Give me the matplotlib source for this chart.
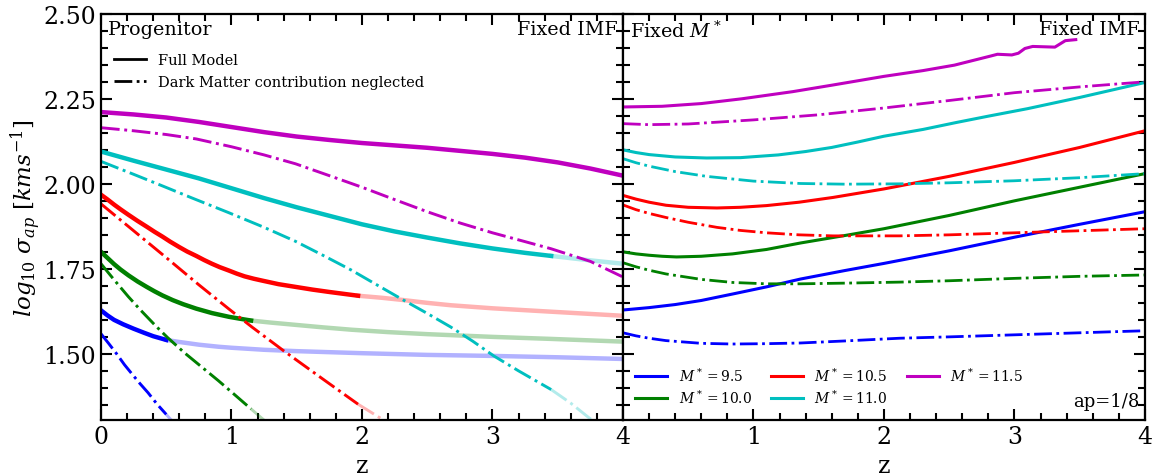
import matplotlib
matplotlib.use('Agg')
import matplotlib.pyplot as plt
from matplotlib.lines import Line2D
import numpy as np

plt.rcParams['font.family'] = 'DejaVu Serif'
plt.rcParams['mathtext.fontset'] = 'dejavuserif'

colors = ['b', 'g', 'r', 'c', 'm']
mass_labels = ['9.5', '10.0', '10.5', '11.0', '11.5']
# z where the progenitor curves fade out
z_fade = [0.5, 1.15, 1.97, 3.45, 9.0]

# --- left panel: progenitor, full model
prog_full_z = [
    [0, 0.05, 0.1, 0.17, 0.25, 0.33, 0.4, 0.5, 0.6, 0.75, 0.9, 1.0, 1.25, 1.5, 2.0, 2.5, 3.0, 3.5, 4.0],
    [0, 0.05, 0.1, 0.15, 0.21, 0.28, 0.35, 0.41, 0.47, 0.55, 0.63, 0.73, 0.85, 0.98, 1.07, 1.15,
     1.3, 1.5, 1.7, 1.92, 2.2, 2.5, 3.0, 3.45, 4.0],
    [0, 0.05, 0.1, 0.15, 0.21, 0.28, 0.35, 0.41, 0.47, 0.53, 0.6, 0.66, 0.73, 0.79, 0.85, 0.91, 0.98,
     1.04, 1.1, 1.17, 1.24, 1.36, 1.49, 1.62, 1.75, 1.87, 1.97, 2.15, 2.3, 2.5, 2.68, 3.0, 3.45, 4.0],
    [0, 0.25, 0.5, 0.75, 1.0, 1.25, 1.5, 1.75, 2.0, 2.25, 2.5, 2.75, 3.0, 3.25, 3.45, 3.7, 4.0],
    [0, 0.25, 0.5, 0.75, 1.0, 1.25, 1.5, 1.75, 2.0, 2.25, 2.5, 2.75, 3.0, 3.25, 3.5, 3.75, 4.0],
]
prog_full_v = [
    [1.628, 1.613, 1.600, 1.587, 1.574, 1.562, 1.552, 1.541, 1.535, 1.527, 1.521, 1.518, 1.512,
     1.508, 1.502, 1.497, 1.494, 1.490, 1.485],
    [1.800, 1.782, 1.764, 1.748, 1.731, 1.713, 1.697, 1.684, 1.672, 1.658, 1.646, 1.633, 1.620,
     1.609, 1.603, 1.598, 1.592, 1.585, 1.578, 1.571, 1.564, 1.558, 1.550, 1.544, 1.536],
    [1.968, 1.954, 1.939, 1.925, 1.909, 1.891, 1.874, 1.859, 1.845, 1.830, 1.814, 1.801, 1.788,
     1.776, 1.765, 1.755, 1.745, 1.736, 1.728, 1.721, 1.715, 1.705, 1.697, 1.689, 1.682, 1.676,
     1.671, 1.665, 1.659, 1.650, 1.643, 1.634, 1.624, 1.612],
    [2.095, 2.068, 2.042, 2.016, 1.987, 1.958, 1.931, 1.906, 1.881, 1.860, 1.842, 1.825, 1.810,
     1.797, 1.788, 1.777, 1.765],
    [2.211, 2.204, 2.195, 2.182, 2.167, 2.152, 2.139, 2.129, 2.120, 2.113, 2.106, 2.097, 2.088,
     2.077, 2.063, 2.045, 2.024],
]

# --- left panel: progenitor, dark matter neglected
prog_nodm_z = [
    [0, 0.06, 0.12, 0.18, 0.25, 0.3, 0.36, 0.43, 0.5, 0.57, 0.65],
    [0, 0.1, 0.21, 0.3, 0.42, 0.51, 0.64, 0.77, 0.9, 1.0, 1.15, 1.25, 1.35],
    [0, 0.25, 0.5, 0.75, 0.98, 1.16, 1.4, 1.7, 1.97, 2.15, 2.3],
    [0, 0.25, 0.47, 0.7, 0.98, 1.25, 1.49, 1.7, 1.92, 2.1, 2.3, 2.5, 2.68, 2.85, 3.01, 3.2, 3.45,
     3.6, 3.73, 3.85],
    [0, 0.25, 0.5, 0.73, 1.0, 1.25, 1.49, 1.75, 2.0, 2.22, 2.5, 2.75, 3.0, 3.25, 3.45, 3.75, 4.0],
]
prog_nodm_v = [
    [1.559, 1.530, 1.500, 1.468, 1.435, 1.412, 1.386, 1.352, 1.322, 1.292, 1.26],
    [1.765, 1.718, 1.668, 1.630, 1.582, 1.548, 1.503, 1.462, 1.421, 1.388, 1.338, 1.305, 1.27],
    [1.941, 1.862, 1.783, 1.703, 1.632, 1.578, 1.509, 1.426, 1.352, 1.309, 1.27],
    [2.066, 2.028, 1.994, 1.958, 1.915, 1.872, 1.831, 1.790, 1.746, 1.706, 1.662, 1.619, 1.579,
     1.537, 1.494, 1.450, 1.395, 1.355, 1.315, 1.28],
    [2.165, 2.156, 2.145, 2.132, 2.109, 2.085, 2.059, 2.024, 1.990, 1.958, 1.918, 1.885, 1.856,
     1.830, 1.809, 1.772, 1.726],
]

# --- right panel: fixed M*, full model
fixm_full_z = [
    [0, 0.2, 0.4, 0.6, 0.84, 1.1, 1.36, 1.7, 2.0, 2.5, 3.0, 3.5, 4.0],
    [0, 0.1, 0.2, 0.3, 0.41, 0.6, 0.84, 1.1, 1.36, 1.7, 2.0, 2.5, 3.0, 3.5, 4.0],
    [0, 0.1, 0.2, 0.33, 0.5, 0.72, 0.9, 1.1, 1.35, 1.61, 2.0, 2.5, 3.0, 3.5, 4.0],
    [0, 0.1, 0.2, 0.4, 0.64, 0.9, 1.19, 1.4, 1.6, 1.8, 2.0, 2.3, 2.55, 2.8, 3.1, 3.5, 4.0],
    [0, 0.3, 0.6, 0.91, 1.3, 1.6, 2.0, 2.3, 2.54, 2.82, 2.87, 2.98, 3.03, 3.08, 3.14, 3.31, 3.39, 3.47],
]
fixm_full_v = [
    [1.629, 1.636, 1.645, 1.657, 1.676, 1.697, 1.720, 1.745, 1.766, 1.803, 1.843, 1.881, 1.918],
    [1.800, 1.794, 1.790, 1.787, 1.785, 1.787, 1.794, 1.807, 1.826, 1.848, 1.868, 1.907, 1.950,
     1.990, 2.030],
    [1.966, 1.955, 1.946, 1.937, 1.931, 1.929, 1.931, 1.936, 1.946, 1.960, 1.985, 2.022, 2.063,
     2.107, 2.156],
    [2.100, 2.092, 2.086, 2.079, 2.076, 2.077, 2.085, 2.095, 2.107, 2.123, 2.140, 2.160, 2.180,
     2.199, 2.221, 2.254, 2.298],
    [2.226, 2.228, 2.236, 2.250, 2.271, 2.290, 2.316, 2.333, 2.349, 2.376, 2.381, 2.379, 2.384,
     2.398, 2.404, 2.402, 2.421, 2.424],
]

# --- right panel: fixed M*, dark matter neglected
fixm_nodm_z = [
    [0, 0.1, 0.2, 0.33, 0.6, 0.84, 1.1, 1.36, 1.7, 2.12, 2.5, 3.0, 3.5, 4.0],
    [0, 0.1, 0.2, 0.33, 0.6, 0.84, 1.1, 1.36, 1.7, 2.12, 2.5, 3.0, 3.5, 4.0],
    [0, 0.1, 0.2, 0.33, 0.5, 0.72, 0.9, 1.1, 1.35, 1.61, 2.12, 2.5, 3.0, 3.5, 4.0],
    [0, 0.1, 0.2, 0.4, 0.64, 1.0, 1.36, 1.7, 2.12, 2.5, 3.0, 3.5, 4.0],
    [0, 0.2, 0.5, 1.0, 1.5, 2.0, 2.5, 3.0, 3.5, 4.0],
]
fixm_nodm_v = [
    [1.562, 1.553, 1.546, 1.539, 1.531, 1.529, 1.530, 1.532, 1.538, 1.546, 1.550, 1.556, 1.562, 1.568],
    [1.768, 1.756, 1.746, 1.735, 1.719, 1.710, 1.706, 1.706, 1.708, 1.711, 1.715, 1.722, 1.728, 1.732],
    [1.938, 1.924, 1.913, 1.901, 1.887, 1.872, 1.863, 1.856, 1.850, 1.847, 1.847, 1.850, 1.856,
     1.862, 1.868],
    [2.074, 2.062, 2.052, 2.036, 2.022, 2.008, 2.001, 1.999, 2.000, 2.003, 2.009, 2.018, 2.030],
    [2.177, 2.174, 2.176, 2.188, 2.203, 2.223, 2.245, 2.268, 2.285, 2.300],
]


def style_axis(ax):
    ax.set_xlim(0, 4)
    ax.set_ylim(1.305, 2.50)
    ax.set_yticks([1.50, 1.75, 2.00, 2.25, 2.50])
    ax.set_yticks(np.arange(1.35, 2.50, 0.05), minor=True)
    ax.set_xticks(np.arange(0, 4.01, 0.2), minor=True)
    ax.tick_params(which='both', direction='in', top=True, right=True, width=1.5, labelsize=17)
    ax.tick_params(which='major', length=8)
    ax.tick_params(which='minor', length=5)
    for s in ax.spines.values():
        s.set_linewidth(1.6)
    ax.set_xlabel('z', fontsize=17)


fig, (ax1, ax2) = plt.subplots(1, 2, figsize=(11.53, 4.77), dpi=100)
fig.subplots_adjust(left=0.0876, right=0.993, top=0.969, bottom=0.117, wspace=0)

for i in range(5):
    zf = z_fade[i]
    for zz, vv, ls, lw in [(prog_full_z[i], prog_full_v[i], '-', 3.2),
                           (prog_nodm_z[i], prog_nodm_v[i], '-.', 2.1)]:
        zz = np.array(zz)
        vv = np.array(vv)
        dark = zz <= zf + 1e-9
        light = zz >= zz[dark][-1] - 1e-9
        ax1.plot(zz[dark], vv[dark], ls, color=colors[i], lw=lw)
        if light.sum() > 1:
            ax1.plot(zz[light], vv[light], ls, color=colors[i], lw=lw, alpha=0.3)

    ax2.plot(fixm_full_z[i], fixm_full_v[i], '-', color=colors[i], lw=2.2,
             label=r'$M^* = %s$' % mass_labels[i])
    ax2.plot(fixm_nodm_z[i], fixm_nodm_v[i], '-.', color=colors[i], lw=2.0)

style_axis(ax1)
style_axis(ax2)
ax1.set_xticks([0, 1, 2, 3, 4])
ax2.set_xticks([0, 1, 2, 3, 4])
ax2.set_xticklabels(['', '1', '2', '3', '4'])
ax2.set_yticklabels([])
ax1.set_ylabel(r'$log_{10}\ \sigma_{ap}\ [kms^{-1}]$', fontsize=16.5, labelpad=0)

ax1.text(0.013, 0.985, 'Progenitor', transform=ax1.transAxes, fontsize=13.8, va='top', ha='left')
ax1.text(0.99, 0.985, 'Fixed IMF', transform=ax1.transAxes, fontsize=13.8, va='top', ha='right')
ax2.text(0.013, 0.985, r'Fixed $M^*$', transform=ax2.transAxes, fontsize=13.8, va='top', ha='left')
ax2.text(0.99, 0.985, 'Fixed IMF', transform=ax2.transAxes, fontsize=13.8, va='top', ha='right')
ax2.text(0.99, 0.025, 'ap=1/8', transform=ax2.transAxes, fontsize=13, va='bottom', ha='right')

handles = [Line2D([], [], color='k', ls='-', lw=2),
           Line2D([], [], color='k', ls='-.', lw=2)]
ax1.legend(handles, ['Full Model', 'Dark Matter contribution neglected'], loc='upper left',
           bbox_to_anchor=(0.0, 0.935), frameon=False, fontsize=10.5, handlelength=2.2)

h, l = ax2.get_legend_handles_labels()
ax2.legend(h, l, loc='lower left', ncol=3, frameon=False, fontsize=10,
           handlelength=2.3, columnspacing=1.4, labelspacing=0.3, bbox_to_anchor=(0.0, 0.005))

plt.savefig('out.png', dpi=100)
